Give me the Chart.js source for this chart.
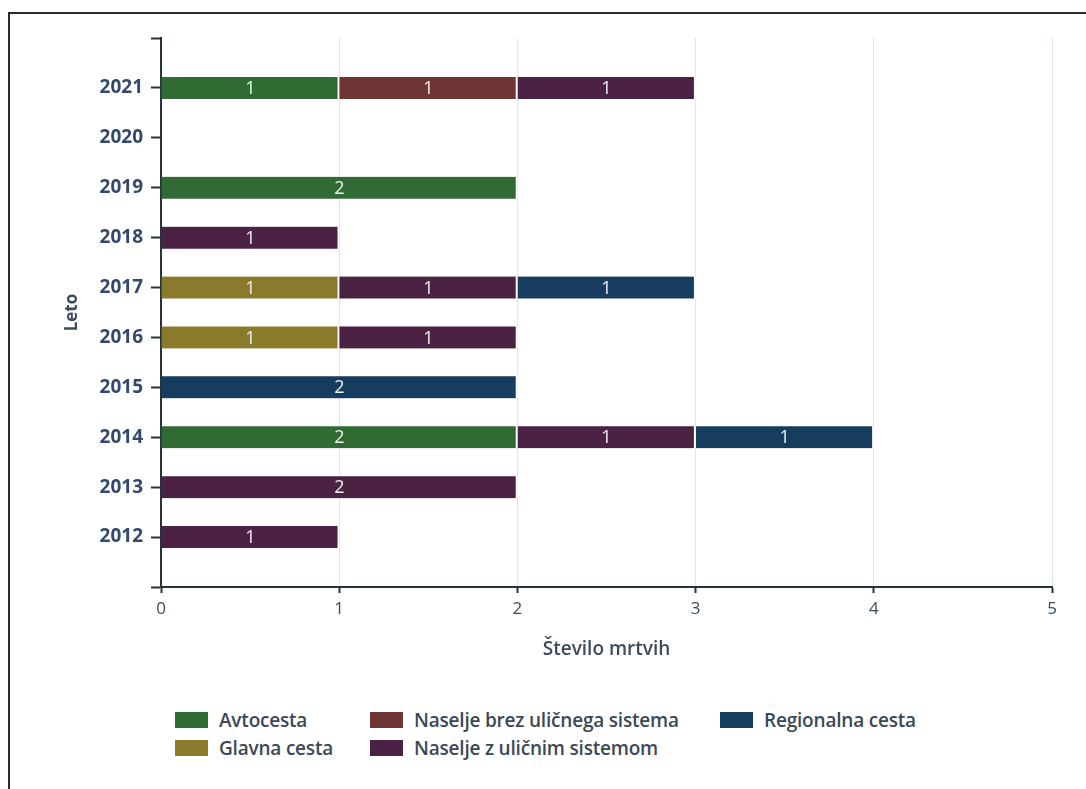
<!DOCTYPE html>
<html>
<head>
<meta charset="utf-8">
<script src="https://cdn.jsdelivr.net/npm/chart.js@4.4.1/dist/chart.umd.min.js"></script>
<style>
  body{margin:0;background:#fff;width:1086px;height:789px;overflow:hidden;position:relative;font-family:"Open Sans",sans-serif;}
  #frame{position:absolute;left:8px;top:12px;width:1100px;height:800px;border-left:2px solid #2b2b2b;border-top:2px solid #2b2b2b;}
  #wrap{position:absolute;left:0;top:0;width:1086px;height:690px;}
  #legend{position:absolute;left:175px;top:706px;display:grid;grid-template-columns:195px 350px auto;grid-auto-flow:column;grid-template-rows:28px 28px;}
  .item{display:flex;align-items:center;font-size:19px;font-weight:600;color:#3b4858;white-space:nowrap;letter-spacing:-0.2px;}
  .box{width:33px;height:16px;margin-right:11px;flex:none;}
</style>
</head>
<body>
<div id="frame"></div>
<div id="wrap"><canvas id="chart"></canvas></div>
<div id="legend"></div>
<script>
const years=["2021","2020","2019","2018","2017","2016","2015","2014","2013","2012"];
const seriesNames=["Avtocesta","Glavna cesta","Naselje brez uličnega sistema","Naselje z uličnim sistemom","Regionalna cesta"];
const seriesColors=["#2f6b33","#8a7a2c","#6f3535","#4b2244","#173d5e"];
const avtocesta   =[1,0,2,0,0,0,0,2,0,0];
const glavnaCesta =[0,0,0,0,1,1,0,0,0,0];
const naseljeBrez =[1,0,0,0,0,0,0,0,0,0];
const naseljeZ    =[1,0,0,1,1,1,0,1,2,1];
const regionalna  =[0,0,0,0,1,0,2,1,0,0];
const seriesValues=[avtocesta,glavnaCesta,naseljeBrez,naseljeZ,regionalna];
const xTicks=[0,1,2,3,4,5];

// blank label above and below so the axis runs one step past the first and last year
const labels=["",...years,""];
const pad=v=>[null,...v.map(x=>x||null),null];

const datasets=seriesNames.map((name,i)=>({
  label:name,
  data:pad(seriesValues[i]),
  backgroundColor:seriesColors[i],
  borderColor:"#ffffff",
  borderWidth:{top:0,bottom:0,left:0,right:2},
  borderSkipped:false,
  barThickness:22
}));

const valueLabels={
  id:"valueLabels",
  afterDatasetsDraw(chart){
    const ctx=chart.ctx;
    ctx.save();
    ctx.font="18px 'Open Sans', sans-serif";
    ctx.fillStyle="#eef3f0";
    ctx.textAlign="center";
    ctx.textBaseline="middle";
    chart.data.datasets.forEach((ds,i)=>{
      chart.getDatasetMeta(i).data.forEach((el,j)=>{
        const v=ds.data[j];
        if(!v) return;
        const p=el.getProps(["x","y","base"],true);
        ctx.fillText(String(v),(p.x+p.base)/2,p.y+1);
      });
    });
    ctx.restore();
  }
};

const dark="#26343a";
new Chart(document.getElementById("chart"),{
  type:"bar",
  data:{labels,datasets},
  options:{
    indexAxis:"y",
    responsive:true,
    maintainAspectRatio:false,
    animation:false,
    layout:{padding:{left:58,right:34,top:38,bottom:0}},
    plugins:{legend:{display:false},tooltip:{enabled:false}},
    scales:{
      x:{
        stacked:true,min:0,max:5,
        afterBuildTicks:s=>{s.ticks=xTicks.map(v=>({value:v}));},
        afterFit:s=>{s.height=103;},
        border:{display:true,color:dark,width:2},
        grid:{color:"#dce8ef",lineWidth:1,tickLength:6,tickColor:dark,tickWidth:2},
        ticks:{color:"#3d4b5c",font:{family:"Open Sans",size:17},padding:6},
        title:{display:true,text:"Število mrtvih",color:"#3d4b5c",font:{family:"Open Sans",size:19,weight:"600"},padding:{top:4,bottom:29}}
      },
      y:{
        stacked:true,offset:false,
        afterFit:s=>{s.width=103;},
        border:{display:true,color:dark,width:2},
        grid:{display:true,drawOnChartArea:false,offset:false,tickLength:10,tickColor:dark,tickWidth:2},
        ticks:{color:"#34496b",font:{family:"Open Sans",size:19,weight:"bold"},padding:8,autoSkip:false},
        title:{display:true,text:"Leto",color:"#3d4b5c",font:{family:"Open Sans",size:17,weight:"bold"},padding:{top:4,bottom:4}}
      }
    }
  },
  plugins:[valueLabels]
});

// legend, filled column by column like the original
const legend=document.getElementById("legend");
seriesNames.forEach((name,i)=>{
  const item=document.createElement("div");
  item.className="item";
  item.innerHTML=`<span class="box" style="background:${seriesColors[i]}"></span>${name}`;
  legend.appendChild(item);
});
</script>
</body>
</html>
